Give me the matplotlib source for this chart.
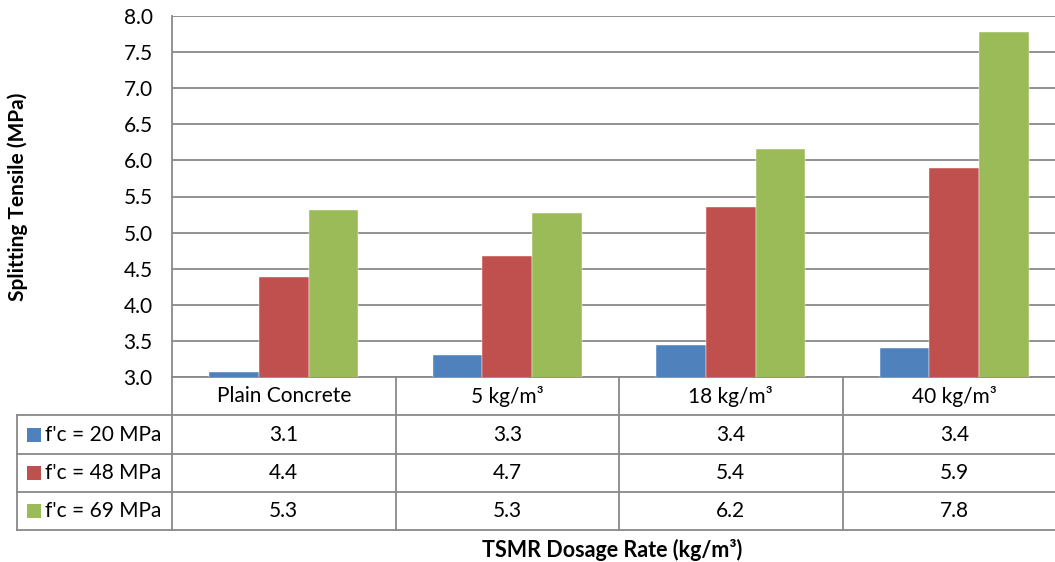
import matplotlib.pyplot as plt
import numpy as np

plt.rcParams['font.family'] = ['Lato', 'DejaVu Sans']

# Data
categories = ['Plain Concrete', '5 kg/m³', '18 kg/m³', '40 kg/m³']
series_names = ["f'c = 20 MPa", "f'c = 48 MPa", "f'c = 69 MPa"]
fc20 = [3.08, 3.31, 3.44, 3.40]
fc48 = [4.39, 4.68, 5.36, 5.90]
fc69 = [5.31, 5.27, 6.16, 7.77]
colors = ['#4F81BD', '#C0504D', '#9BBB59']
series = [fc20, fc48, fc69]

W, H = 1055, 562
fig = plt.figure(figsize=(W / 100, H / 100), dpi=100)

grid_c = '#898989'
col_w = 223.5
x0, top_px, base_px, tab_bottom_px, row_lab_px = 172, 15.7, 377.3, 530, 17
right_px = x0 + 4 * col_w
fs = 15

# bar chart
ax = fig.add_axes([x0 / W, 1 - base_px / H, (right_px - x0) / W, (base_px - top_px) / H])
x = np.arange(len(categories))
bw = 0.222
for i, (vals, c) in enumerate(zip(series, colors)):
    ax.bar(x + (i - 1) * bw, vals, bw, bottom=0, color=c, edgecolor='white',
           linewidth=0.3, zorder=3)
ax.set_xlim(-0.5, len(categories) - 0.5)
ax.set_ylim(3.0, 8.0)
ax.set_yticks(np.arange(3.0, 8.01, 0.5))
ax.set_yticklabels([f'{v:.1f}' for v in np.arange(3.0, 8.01, 0.5)], fontsize=fs)
ax.set_xticks([])
ax.tick_params(axis='y', length=0, pad=14)
ax.grid(axis='y', color=grid_c, linewidth=1.3, zorder=0)
for s in ['top', 'right']:
    ax.spines[s].set_visible(False)
for s in ['left', 'bottom']:
    ax.spines[s].set_color(grid_c)
    ax.spines[s].set_linewidth(1.3)
ax.set_ylabel('Splitting Tensile (MPa)', fontsize=15, fontweight='bold')
ax.yaxis.set_label_coords(-0.161, 0.5)

# data table below the plot
tab = fig.add_axes([x0 / W, 1 - tab_bottom_px / H, (right_px - x0) / W, (tab_bottom_px - base_px) / H])
tab.set_xlim(-0.5, len(categories) - 0.5)
tab.set_ylim(4, 0)
tab.axis('off')
lab_left = -0.5 - (x0 - row_lab_px) / col_w
kw = dict(color=grid_c, linewidth=1.3, clip_on=False)
for r in range(1, 5):
    tab.plot([lab_left, len(categories) - 0.5], [r, r], **kw)
tab.plot([lab_left, lab_left], [1, 4], **kw)
for c in range(len(categories) + 1):
    tab.plot([c - 0.5, c - 0.5], [0, 4], **kw)
for j, cat in enumerate(categories):
    tab.text(j, 0.5, cat, ha='center', va='center', fontsize=fs)
for i, (name, vals, c) in enumerate(zip(series_names, series, colors)):
    yr = i + 1.5
    tab.scatter([lab_left + 16.5 / col_w], [yr], marker='s', s=95,
                color=c, clip_on=False, linewidths=0)
    tab.text(lab_left + 28 / col_w, yr, name, ha='left', va='center', fontsize=fs)
    for j, v in enumerate(vals):
        tab.text(j, yr, f'{v:.1f}', ha='center', va='center', fontsize=fs)

fig.text(612 / W, 1 - 550 / H, 'TSMR Dosage Rate (kg/m³)', ha='center', va='center',
         fontsize=15.5, fontweight='bold')

fig.savefig('out.png', dpi=100)
